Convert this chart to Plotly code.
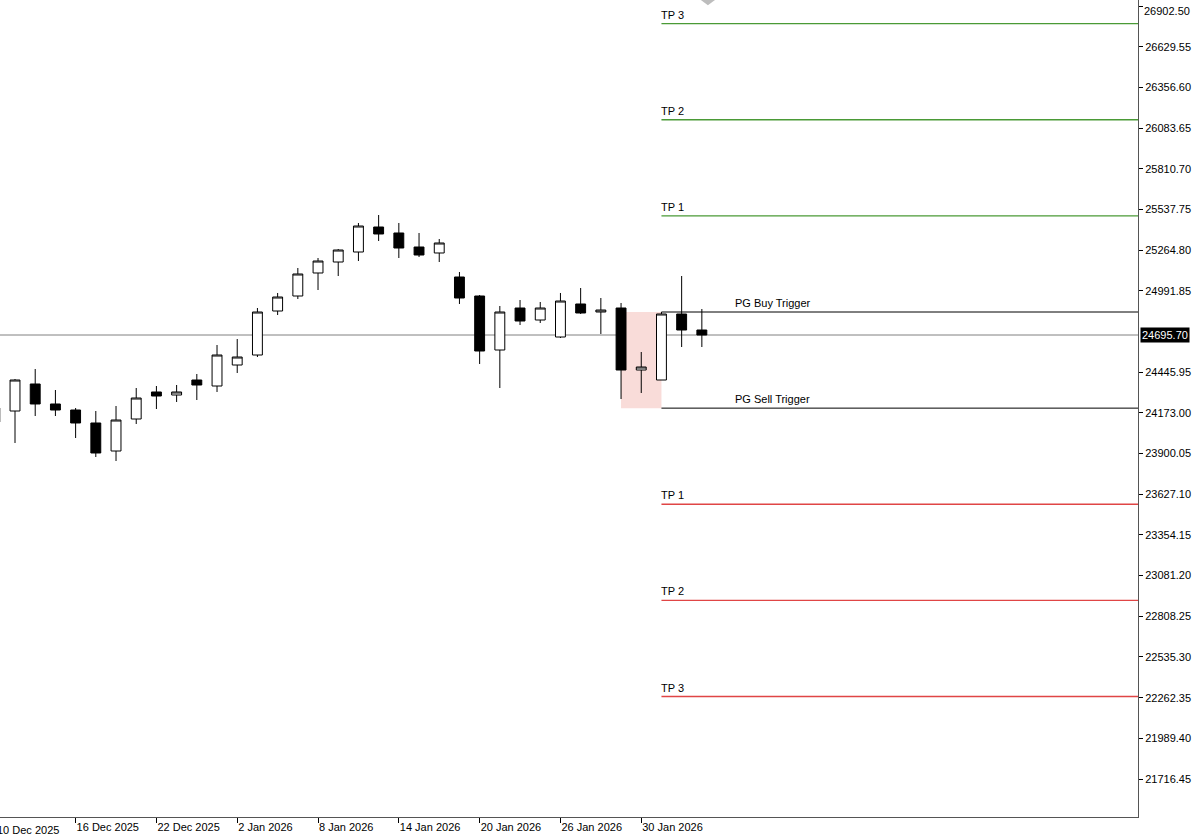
import plotly.graph_objects as go

# ---- data -------------------------------------------------------------
dates = ["10 Dec 2025", "11 Dec 2025", "12 Dec 2025", "15 Dec 2025", "16 Dec 2025",
         "17 Dec 2025", "18 Dec 2025", "19 Dec 2025", "22 Dec 2025", "23 Dec 2025",
         "29 Dec 2025", "30 Dec 2025", "2 Jan 2026", "5 Jan 2026", "6 Jan 2026",
         "7 Jan 2026", "8 Jan 2026", "9 Jan 2026", "12 Jan 2026", "13 Jan 2026",
         "14 Jan 2026", "15 Jan 2026", "16 Jan 2026", "19 Jan 2026", "20 Jan 2026",
         "21 Jan 2026", "22 Jan 2026", "23 Jan 2026", "26 Jan 2026", "27 Jan 2026",
         "28 Jan 2026", "29 Jan 2026", "30 Jan 2026", "2 Feb 2026", "3 Feb 2026",
         "4 Feb 2026"]
opens = [24112.0, 24185.8, 24367.0, 24232.8, 24192.5, 24105.3, 23917.4, 24132.1, 24313.3, 24293.1,
         24393.8, 24353.5, 24494.4, 24561.5, 24856.8, 24957.4, 25111.8, 25185.6, 25252.7, 25420.4,
         25380.2, 25286.2, 25246.0, 25084.9, 24957.4, 24595.1, 24876.9, 24796.4, 24682.3, 24903.8,
         24850.1, 24876.9, 24460.9, 24393.8, 24836.7, 24729.3]
highs = [24239.5, 24400.5, 24467.6, 24326.7, 24205.9, 24185.8, 24219.3, 24340.1, 24353.5, 24360.2,
         24434.1, 24628.6, 24668.9, 24876.9, 24977.6, 25145.3, 25212.4, 25272.8, 25447.3, 25500.9,
         25447.3, 25380.2, 25339.9, 25118.5, 24964.1, 24890.3, 24930.6, 24917.2, 24977.6, 25011.1,
         24944.0, 24910.5, 24581.7, 24850.1, 25091.6, 24870.2]
lows = [24071.7, 23971.1, 24152.2, 24152.2, 24004.6, 23877.1, 23850.3, 24098.6, 24199.2, 24246.2,
        24259.6, 24313.3, 24440.8, 24548.1, 24829.9, 24937.3, 24997.7, 25091.6, 25192.3, 25326.5,
        25212.4, 25219.1, 25185.6, 24903.8, 24501.2, 24340.1, 24762.8, 24776.3, 24675.6, 24836.7,
        24702.5, 24266.3, 24306.6, 24393.8, 24615.2, 24615.2]
closes = [24205.9, 24393.8, 24232.8, 24192.5, 24105.3, 23904.0, 24125.4, 24273.0, 24286.4, 24313.3,
          24360.2, 24561.5, 24548.1, 24850.1, 24950.7, 25105.1, 25192.3, 25266.1, 25427.1, 25373.5,
          25279.5, 25232.5, 25313.1, 24944.0, 24588.4, 24850.1, 24789.7, 24876.9, 24923.9, 24843.4,
          24863.5, 24460.9, 24481.0, 24836.7, 24729.3, 24695.70]

current_price = 24695.70
buy_trigger = 24850.0
sell_trigger = 24205.0
buy_tps = [25495.0, 26140.0, 26785.0]
sell_tps = [23560.0, 22915.0, 22270.0]
tp_names = ["TP 1", "TP 2", "TP 3"]

y_ticks = [26902.50, 26629.55, 26356.60, 26083.65, 25810.70, 25537.75, 25264.80, 24991.85,
           24445.95, 24173.00, 23900.05, 23627.10, 23354.15, 23081.20, 22808.25, 22535.30,
           22262.35, 21989.40, 21716.45]
x_tick_idx = [0, 4, 8, 12, 16, 20, 24, 28, 32]

zone_start_idx = 31   # 29 Jan
level_start_idx = 33  # 2 Feb
label_idx = 38.5

# ---- figure -----------------------------------------------------------
xi = list(range(len(dates)))
FONT = "Liberation Sans, Arial, sans-serif"

fig = go.Figure()
fig.add_trace(go.Candlestick(
    x=xi, open=opens, high=highs, low=lows, close=closes,
    increasing=dict(line=dict(color="black", width=1), fillcolor="white"),
    decreasing=dict(line=dict(color="black", width=1), fillcolor="black"),
    whiskerwidth=0, showlegend=False, hoverinfo="skip",
))

x_lo, x_hi = 0.257, 56.59
y_lo, y_hi = 21461.5, 26943.6

shapes = []
# pink zone
shapes.append(dict(type="rect", xref="x", yref="y", x0=zone_start_idx, x1=level_start_idx,
                   y0=sell_trigger, y1=buy_trigger, fillcolor="#f9dcd9",
                   line=dict(width=0), layer="below"))
# current price line
shapes.append(dict(type="line", xref="paper", yref="y", x0=0, x1=1,
                   y0=current_price, y1=current_price,
                   line=dict(color="#808080", width=1), layer="below"))
# triggers
for lvl in (buy_trigger, sell_trigger):
    shapes.append(dict(type="line", xref="x", yref="y", x0=level_start_idx, x1=x_hi + 1,
                       y0=lvl, y1=lvl, line=dict(color="black", width=1)))
for lvl in buy_tps:
    shapes.append(dict(type="line", xref="x", yref="y", x0=level_start_idx, x1=x_hi + 1,
                       y0=lvl, y1=lvl, line=dict(color="#4a9a36", width=1.4)))
for lvl in sell_tps:
    shapes.append(dict(type="line", xref="x", yref="y", x0=level_start_idx, x1=x_hi + 1,
                       y0=lvl, y1=lvl, line=dict(color="#e04545", width=1.4)))
# small gray marker at top edge
shapes.append(dict(type="path", xref="x", yref="paper",
                   path="M 34.95 1 L 35.65 1 L 35.3 0.9935 Z",
                   fillcolor="#bdbdbd", line=dict(width=0)))

annotations = []
for name, lvl in zip(tp_names, buy_tps):
    annotations.append(dict(x=level_start_idx, y=lvl, xref="x", yref="y", text=name,
                            showarrow=False, xanchor="left", yanchor="bottom", xshift=-2, yshift=1,
                            font=dict(family=FONT, size=11, color="black")))
for name, lvl in zip(tp_names, sell_tps):
    annotations.append(dict(x=level_start_idx, y=lvl, xref="x", yref="y", text=name,
                            showarrow=False, xanchor="left", yanchor="bottom", xshift=-2, yshift=1,
                            font=dict(family=FONT, size=11, color="black")))
annotations.append(dict(x=label_idx, y=buy_trigger, xref="x", yref="y", text="PG Buy Trigger",
                        showarrow=False, xanchor="center", yanchor="bottom", yshift=1,
                        font=dict(family=FONT, size=11, color="black")))
annotations.append(dict(x=label_idx, y=sell_trigger, xref="x", yref="y", text="PG Sell Trigger",
                        showarrow=False, xanchor="center", yanchor="bottom", yshift=1,
                        font=dict(family=FONT, size=11, color="black")))
# current price tag
annotations.append(dict(x=1, y=current_price, xref="paper", yref="y",
                        text=f"{current_price:.2f}", showarrow=False, xanchor="left",
                        yanchor="middle", xshift=2, bgcolor="black", borderpad=1,
                        font=dict(family=FONT, size=11, color="white")))
# top price label (pushed down to stay inside the chart, as in the terminal)
annotations.append(dict(x=1, y=1, xref="paper", yref="paper", text=f"{y_ticks[0]:.2f}",
                        showarrow=False, xanchor="left", yanchor="top", xshift=4, yshift=-3,
                        font=dict(family=FONT, size=11, color="black")))
# first date label (its tick lies just beyond the left edge)
first_px = (x_tick_idx[0] - x_lo) / (x_hi - x_lo)
annotations.append(dict(x=first_px, y=0, xref="paper", yref="paper", text=dates[x_tick_idx[0]],
                        showarrow=False, xanchor="left", yanchor="top", xshift=0, yshift=-5,
                        font=dict(family=FONT, size=11, color="black")))

y_ticktext = [f"{v:.2f}" for v in y_ticks]
y_ticktext[0] = ""

fig.update_layout(
    width=1200, height=837,
    margin=dict(l=0, r=62, t=0, b=20),
    paper_bgcolor="white", plot_bgcolor="white",
    shapes=shapes, annotations=annotations,
    font=dict(family=FONT, size=11, color="black"),
    showlegend=False,
    xaxis=dict(
        range=[x_lo, x_hi], rangeslider=dict(visible=False),
        tickvals=x_tick_idx, ticktext=[dates[i] for i in x_tick_idx],
        ticks="outside", ticklen=5, tickcolor="black", tickwidth=1,
        ticklabelposition="outside right",
        showline=True, linecolor="#555555", linewidth=1,
        showgrid=False, zeroline=False,
        tickfont=dict(family=FONT, size=11, color="black"),
    ),
    yaxis=dict(
        side="right", range=[y_lo, y_hi],
        tickvals=y_ticks, ticktext=y_ticktext,
        ticks="outside", ticklen=4, tickcolor="black", tickwidth=1,
        showline=True, linecolor="#555555", linewidth=1,
        showgrid=False, zeroline=False,
        tickfont=dict(family=FONT, size=11, color="black"),
    ),
)

fig.write_html("out.html", config={"displayModeBar": False},
               post_script="document.body.style.margin='0';document.body.style.overflow='hidden';")
